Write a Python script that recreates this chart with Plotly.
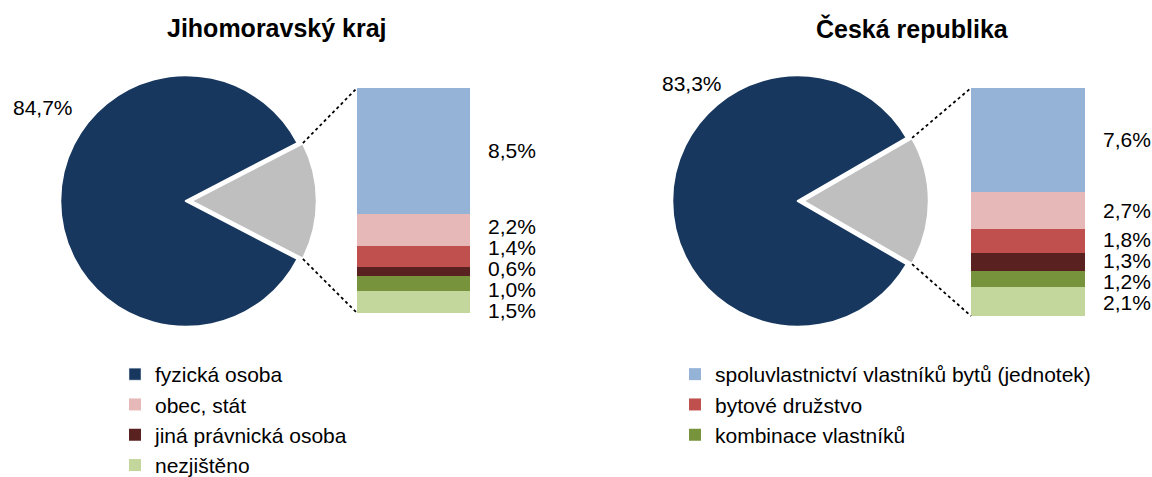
import math
import plotly.graph_objects as go

# ---------------- data ----------------
regions = ["Jihomoravský kraj", "Česká republika"]
main_label = "fyzická osoba"
main_values = [84.7, 83.3]

# stacked-bar categories, bottom -> top
bar_categories = [
    "nezjištěno",
    "kombinace vlastníků",
    "jiná právnická osoba",
    "bytové družstvo",
    "obec, stát",
    "spoluvlastnictví vlastníků bytů (jednotek)",
]
jmk_values = [1.5, 1.0, 0.6, 1.4, 2.2, 8.5]
cr_values = [2.1, 1.2, 1.3, 1.8, 2.7, 7.6]
series_values = [jmk_values, cr_values]

# legend layout
legend1_items = ["fyzická osoba", "obec, stát", "jiná právnická osoba", "nezjištěno"]
legend2_items = ["spoluvlastnictví vlastníků bytů (jednotek)", "bytové družstvo", "kombinace vlastníků"]

# ---------------- styles ----------------
W, H = 1152, 477
FONT = "Arial, Liberation Sans, sans-serif"
NAVY = "#17375E"
GREY = "#BFBFBF"
colors = {
    "nezjištěno": "#C3D69B",
    "kombinace vlastníků": "#77933C",
    "jiná právnická osoba": "#5A2121",
    "bytové družstvo": "#C0504D",
    "obec, stát": "#E6B9B8",
    "spoluvlastnictví vlastníků bytů (jednotek)": "#95B3D7",
    "fyzická osoba": NAVY,
}

# pixel geometry for each panel
panels = [
    dict(cx=186, cy=201, R=126, bar_x=(357, 470), bar_y=(88, 313),
         main_lbl=(11, 107), title_x=277),
    dict(cx=798, cy=201, R=126, bar_x=(971, 1085), bar_y=(88, 316),
         main_lbl=(660, 83), title_x=912),
]
PULL = 0.04
LABEL_GAP_PX = 21
LABEL_XSHIFT = 16
LABEL_SIZE = 21
LEGEND_SIZE = 21
TITLE_SIZE = 25


def fx(p):
    return p / W


def fy(p):
    return 1 - p / H


def pct(v):
    return f"{v:.1f}".replace(".", ",") + "%"


def spread(centers, gap):
    """Push label centres apart so that neighbours are at least `gap` apart."""
    pos = list(centers)
    groups = [[i] for i in range(len(centers))]
    changed = True
    while changed:
        changed = False
        for k in range(len(groups) - 1):
            a, b = groups[k], groups[k + 1]
            if pos[b[0]] - pos[a[-1]] < gap - 1e-9:
                merged = a + b
                mean = sum(centers[i] for i in merged) / len(merged)
                n = len(merged)
                for j, i in enumerate(merged):
                    pos[i] = mean + (j - (n - 1) / 2) * gap
                groups[k] = merged
                del groups[k + 1]
                changed = True
                break
    return pos


fig = go.Figure()
annotations = []
shapes = []

for p_i, (panel, region) in enumerate(zip(panels, regions)):
    vals = series_values[p_i]
    rest = sum(vals)
    main = main_values[p_i]
    share = rest / (rest + main)
    half_deg = 180 * share

    # ---------- pie ----------
    half = panel["R"] * (1 + PULL)
    fig.add_trace(go.Pie(
        labels=["ostatní", main_label],
        values=[rest, main],
        sort=False,
        direction="clockwise",
        rotation=90 - half_deg,
        pull=[PULL, 0],
        marker=dict(colors=[GREY, NAVY], line=dict(color="white", width=2.5)),
        textinfo="none",
        hoverinfo="skip",
        showlegend=False,
        domain=dict(x=[fx(panel["cx"] - half), fx(panel["cx"] + half)],
                    y=[fy(panel["cy"] + half), fy(panel["cy"] - half)]),
    ))

    # ---------- stacked bar ----------
    ax = "" if p_i == 0 else "2"
    for cat, v in zip(bar_categories, vals):
        if cat in legend1_items:
            lg, rank = "legend", legend1_items.index(cat) + 1
        else:
            lg, rank = "legend2", legend2_items.index(cat) + 1
        fig.add_trace(go.Bar(
            x=[0], y=[v], width=1, name=cat,
            marker=dict(color=colors[cat], line=dict(width=0)),
            xaxis="x" + ax, yaxis="y" + ax,
            showlegend=(p_i == 0), legend=lg, legendrank=rank,
            hoverinfo="skip",
        ))

    # ---------- bar labels ----------
    bar_px_h = panel["bar_y"][1] - panel["bar_y"][0]
    unit_px = bar_px_h / rest
    cum = 0
    centers = []
    for v in vals:
        centers.append(cum + v / 2)
        cum += v
    neg = [-c for c in centers][::-1]
    spread_neg = spread(neg, LABEL_GAP_PX / unit_px)
    label_pos = [-s for s in spread_neg][::-1]
    for v, yv in zip(vals, label_pos):
        annotations.append(dict(
            x=0.5, y=yv, xref="x" + ax, yref="y" + ax,
            text=pct(v), showarrow=False, xanchor="left", yanchor="middle",
            xshift=LABEL_XSHIFT, font=dict(family=FONT, size=LABEL_SIZE, color="black"),
        ))

    # ---------- main slice label ----------
    annotations.append(dict(
        x=fx(panel["main_lbl"][0]), y=fy(panel["main_lbl"][1]),
        xref="paper", yref="paper", text=pct(main), showarrow=False,
        xanchor="left", yanchor="middle",
        font=dict(family=FONT, size=LABEL_SIZE, color="black"),
    ))

    # ---------- title ----------
    annotations.append(dict(
        x=fx(panel["title_x"]), y=fy(28), xref="paper", yref="paper",
        text=f"<b>{region}</b>", showarrow=False, xanchor="center", yanchor="middle",
        font=dict(family=FONT, size=TITLE_SIZE, color="black"),
    ))

    # ---------- connector lines ----------
    th = math.radians(half_deg)
    tip_x = panel["cx"] + PULL * panel["R"]
    cx_top = tip_x + panel["R"] * math.cos(th)
    cy_top = panel["cy"] - panel["R"] * math.sin(th)
    cy_bot = panel["cy"] + panel["R"] * math.sin(th)
    bx0 = panel["bar_x"][0]
    for (sy, ey) in [(cy_top, panel["bar_y"][0]), (cy_bot, panel["bar_y"][1])]:
        shapes.append(dict(
            type="line", xref="paper", yref="paper",
            x0=fx(cx_top), y0=fy(sy), x1=fx(bx0), y1=fy(ey),
            line=dict(color="black", width=1.8, dash="dot"),
        ))

# legend-only entry for the pie's main category
fig.add_trace(go.Bar(
    x=[None], y=[None], name=main_label, marker=dict(color=NAVY),
    legend="legend", legendrank=1, showlegend=True, hoverinfo="skip",
))

axis_common = dict(visible=False, fixedrange=True)
p0, p1 = panels
fig.update_layout(
    width=W, height=H, autosize=False,
    margin=dict(l=0, r=0, t=0, b=0, autoexpand=False),
    paper_bgcolor="white", plot_bgcolor="rgba(0,0,0,0)",
    barmode="stack", bargap=0,
    xaxis=dict(domain=[fx(p0["bar_x"][0]), fx(p0["bar_x"][1])], range=[-0.5, 0.5], **axis_common),
    yaxis=dict(domain=[fy(p0["bar_y"][1]), fy(p0["bar_y"][0])], range=[0, sum(jmk_values)], **axis_common),
    xaxis2=dict(domain=[fx(p1["bar_x"][0]), fx(p1["bar_x"][1])], range=[-0.5, 0.5], anchor="y2", **axis_common),
    yaxis2=dict(domain=[fy(p1["bar_y"][1]), fy(p1["bar_y"][0])], range=[0, sum(cr_values)], anchor="x2", **axis_common),
    legend=dict(x=fx(115), y=fy(354), xanchor="left", yanchor="top",
                font=dict(family=FONT, size=LEGEND_SIZE, color="black"),
                traceorder="normal", bgcolor="rgba(0,0,0,0)"),
    legend2=dict(x=fx(675), y=fy(354), xanchor="left", yanchor="top",
                 font=dict(family=FONT, size=LEGEND_SIZE, color="black"),
                 traceorder="normal", bgcolor="rgba(0,0,0,0)"),
    annotations=annotations,
    shapes=shapes,
    showlegend=True,
)

fig.write_html(
    "out.html",
    config={"responsive": False, "displayModeBar": False},
    post_script="document.body.style.margin='0';document.body.style.overflow='hidden';",
)
